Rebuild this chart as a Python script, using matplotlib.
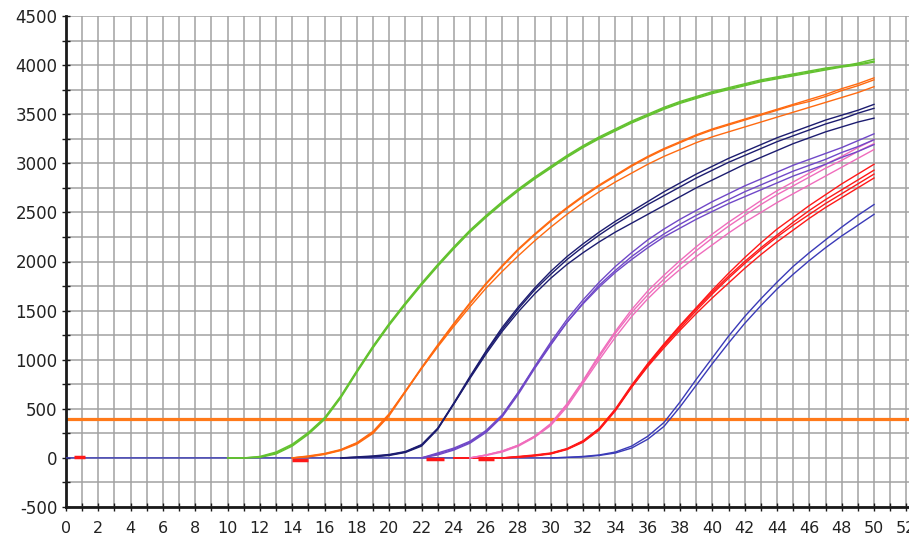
import matplotlib
matplotlib.use("Agg")
import matplotlib.pyplot as plt
import numpy as np

# ---------------- data (fluorescence vs cycle) ----------------
threshold = 400

green_start = 10
green_1 = [0, 0, 10, 50, 130, 250, 400, 620, 880, 1130, 1360, 1570, 1770, 1960, 2140, 2310, 2460, 2600, 2730, 2850, 2960,
           3070, 3170, 3260, 3340, 3420, 3490, 3560, 3620, 3670, 3720, 3760, 3800, 3840, 3870, 3900, 3930, 3960, 3990, 4020, 4060]
green_2 = [0, 0, 5, 40, 120, 240, 390, 610, 870, 1120, 1350, 1560, 1760, 1950, 2130, 2300, 2450, 2590, 2720, 2840, 2950,
           3060, 3160, 3250, 3330, 3410, 3480, 3550, 3610, 3660, 3710, 3750, 3790, 3830, 3860, 3890, 3920, 3950, 3980, 4000, 4030]
green_3 = [0, 0, 15, 60, 140, 260, 410, 630, 890, 1140, 1370, 1580, 1780, 1970, 2150, 2320, 2470, 2610, 2740, 2860, 2970,
           3080, 3180, 3270, 3350, 3430, 3500, 3570, 3630, 3680, 3730, 3770, 3810, 3850, 3880, 3910, 3940, 3970, 3990, 4010, 4040]

orange_start = 14
orange_1 = [0, 15, 40, 80, 150, 260, 440, 680, 920, 1150, 1370, 1580, 1780, 1960, 2130, 2280, 2420, 2550, 2670, 2780, 2880,
            2980, 3070, 3150, 3220, 3290, 3350, 3400, 3450, 3500, 3550, 3600, 3650, 3700, 3760, 3810, 3870]
orange_2 = [0, 10, 35, 75, 140, 250, 430, 670, 910, 1140, 1360, 1570, 1770, 1950, 2120, 2270, 2410, 2540, 2660, 2770, 2870,
            2970, 3060, 3140, 3210, 3280, 3340, 3390, 3440, 3490, 3540, 3590, 3630, 3680, 3740, 3790, 3850]
orange_3 = [0, 20, 45, 85, 155, 270, 450, 680, 910, 1130, 1340, 1540, 1730, 1900, 2060, 2210, 2350, 2480, 2600, 2710, 2810,
            2900, 2990, 3070, 3140, 3210, 3270, 3320, 3370, 3420, 3470, 3520, 3570, 3620, 3670, 3720, 3780]

navy_start = 17
navy_1 = [0, 5, 15, 30, 60, 130, 300, 560, 830, 1090, 1330, 1540, 1730, 1900, 2050, 2180, 2300, 2410, 2510, 2610, 2710,
          2800, 2890, 2970, 3050, 3120, 3190, 3260, 3320, 3380, 3440, 3490, 3540, 3600]
navy_2 = [0, 5, 10, 25, 55, 120, 290, 550, 820, 1080, 1310, 1520, 1710, 1870, 2020, 2150, 2270, 2380, 2480, 2580, 2670,
          2760, 2850, 2930, 3010, 3080, 3150, 3220, 3280, 3340, 3400, 3450, 3510, 3560]
navy_3 = [0, 10, 20, 35, 65, 135, 300, 550, 810, 1060, 1290, 1490, 1670, 1830, 1970, 2090, 2200, 2300, 2390, 2480, 2570,
          2660, 2750, 2830, 2910, 2990, 3060, 3130, 3200, 3260, 3320, 3370, 3420, 3460]

purple_start = 22
purple_1 = [0, 40, 90, 160, 270, 430, 670, 930, 1180, 1410, 1610, 1790, 1950, 2090, 2220, 2330, 2430, 2520, 2610, 2690,
            2770, 2840, 2910, 2980, 3040, 3100, 3160, 3230, 3300]
purple_2 = [0, 30, 80, 150, 260, 420, 650, 910, 1150, 1380, 1580, 1760, 1910, 2050, 2170, 2280, 2380, 2470, 2550, 2630,
            2710, 2780, 2850, 2920, 2980, 3040, 3110, 3170, 3240]
purple_3 = [0, 50, 100, 170, 280, 440, 670, 920, 1160, 1380, 1570, 1740, 1890, 2020, 2140, 2250, 2340, 2430, 2510, 2590,
            2660, 2730, 2800, 2870, 2930, 2990, 3060, 3120, 3190]

pink_start = 25
pink_1 = [0, 30, 70, 130, 220, 350, 550, 790, 1050, 1290, 1510, 1700, 1860, 2010, 2150, 2280, 2400, 2510, 2620, 2720,
          2810, 2900, 2990, 3070, 3160, 3240]
pink_2 = [0, 30, 70, 130, 220, 340, 540, 780, 1030, 1270, 1480, 1660, 1820, 1970, 2110, 2240, 2360, 2470, 2580, 2680,
          2770, 2860, 2950, 3030, 3120, 3200]
pink_3 = [0, 25, 60, 120, 210, 330, 520, 760, 1000, 1230, 1440, 1620, 1780, 1920, 2050, 2170, 2290, 2400, 2500, 2600,
          2690, 2780, 2870, 2960, 3050, 3140]

red_start = 24
red_1 = [0, 0, 0, 0, 10, 25, 45, 90, 170, 300, 500, 740, 960, 1160, 1350, 1530, 1710, 1880, 2040, 2190, 2330, 2450,
         2570, 2680, 2790, 2890, 2990]
red_2 = [0, 0, 0, 0, 5, 20, 40, 85, 160, 285, 480, 720, 940, 1140, 1320, 1500, 1670, 1830, 1980, 2120, 2250, 2370,
         2480, 2590, 2690, 2790, 2890]
red_3 = [0, 0, 0, 0, 15, 30, 50, 95, 175, 300, 490, 720, 930, 1120, 1300, 1470, 1630, 1780, 1930, 2070, 2200, 2320,
         2440, 2550, 2650, 2750, 2850]
red_4 = [0, 0, 0, 0, 10, 25, 45, 90, 165, 290, 490, 730, 950, 1150, 1340, 1520, 1690, 1850, 2000, 2140, 2270, 2400,
         2520, 2630, 2730, 2830, 2930]

blue_start = 0
blue_1 = [0, 0, 0, 0, 0, 0, 0, 0, 0, 0, 0, 0, 0, 0, 0, 0, 0, 0, 0, 0, 0, 0, 0, 0, 0, 0, 0, 0, 0, 0, 0, 5, 15,
          30, 60, 120, 220, 360, 570, 800, 1020, 1240, 1440, 1620, 1790, 1950, 2090, 2220, 2350, 2470, 2580]
blue_2_start = 30
blue_2 = [0, 5, 10, 25, 50, 100, 190, 320, 520, 740, 960, 1170, 1370, 1550, 1720, 1870, 2010, 2140, 2260, 2370, 2480]

# short red baseline fragments (cycle_from, cycle_to, value)
red_frag_x = [(0.5, 1.2), (14.0, 15.0), (22.3, 23.4), (25.5, 26.5)]
red_frag_y = [10, -20, -15, -15]

x_ticks = list(range(0, 53, 2))
y_ticks = list(range(-500, 4501, 500))

colors = {
    "green": "#63c22f",
    "orange": "#ff6a10",
    "navy": "#1c1c70",
    "purple": "#7048c8",
    "pink": "#f06cbc",
    "red": "#ff1818",
    "blue": "#3a3ab8",
}

groups = [
    ("blue", blue_start, [blue_1]),
    ("blue", blue_2_start, [blue_2]),
    ("red", red_start, [red_1, red_2, red_3, red_4]),
    ("pink", pink_start, [pink_1, pink_2, pink_3]),
    ("purple", purple_start, [purple_1, purple_2, purple_3]),
    ("navy", navy_start, [navy_1, navy_2, navy_3]),
    ("orange", orange_start, [orange_1, orange_2, orange_3]),
    ("green", green_start, [green_1, green_2, green_3]),
]

# ---------------- figure ----------------
W, H = 909, 541
fig = plt.figure(figsize=(W / 100, H / 100), dpi=100)
left_px, bottom_px, top_px = 66, 507, 16
px_per_unit = 16.16
ax = fig.add_axes([left_px / W, (H - bottom_px) / H, 1 - left_px / W, (bottom_px - top_px) / H])
ax.set_xlim(0, (W - left_px) / px_per_unit)
ax.set_ylim(-500, 4500)

ax.axhline(threshold, color="#ff7a1a", lw=2.3, zorder=2)

for cname, start, series in groups:
    for s in series:
        xs = np.arange(start, start + len(s))
        ax.plot(xs, s, color=colors[cname], lw=1.0, zorder=3, solid_joinstyle="round")

for (x0, x1), yv in zip(red_frag_x, red_frag_y):
    ax.plot([x0, x1], [yv, yv], color=colors["red"], lw=2.5, zorder=4, solid_capstyle="butt")

# grid
ax.set_xticks(x_ticks)
ax.set_xticks(np.arange(0, 53, 1), minor=True)
ax.set_yticks(y_ticks)
ax.set_yticks(np.arange(-500, 4501, 250), minor=True)
ax.grid(True, which="both", color="#a2a2a2", lw=1.1, zorder=0)
ax.set_axisbelow(True)

for sp in ["top", "right"]:
    ax.spines[sp].set_visible(False)
for sp in ["left", "bottom"]:
    ax.spines[sp].set_color("#1a1a1a")
    ax.spines[sp].set_linewidth(2.0)

ax.tick_params(which="both", direction="inout", length=6, width=1.0, color="#1a1a1a")
ax.tick_params(axis="y", which="major", labelsize=12, pad=3, labelcolor="#222222")
ax.tick_params(axis="x", which="major", labelsize=11.5, pad=7, labelcolor="#222222")
ax.set_xticklabels([str(v) for v in x_ticks])
ax.set_yticklabels([str(v) for v in y_ticks])

fig.savefig("out.png", dpi=100)
